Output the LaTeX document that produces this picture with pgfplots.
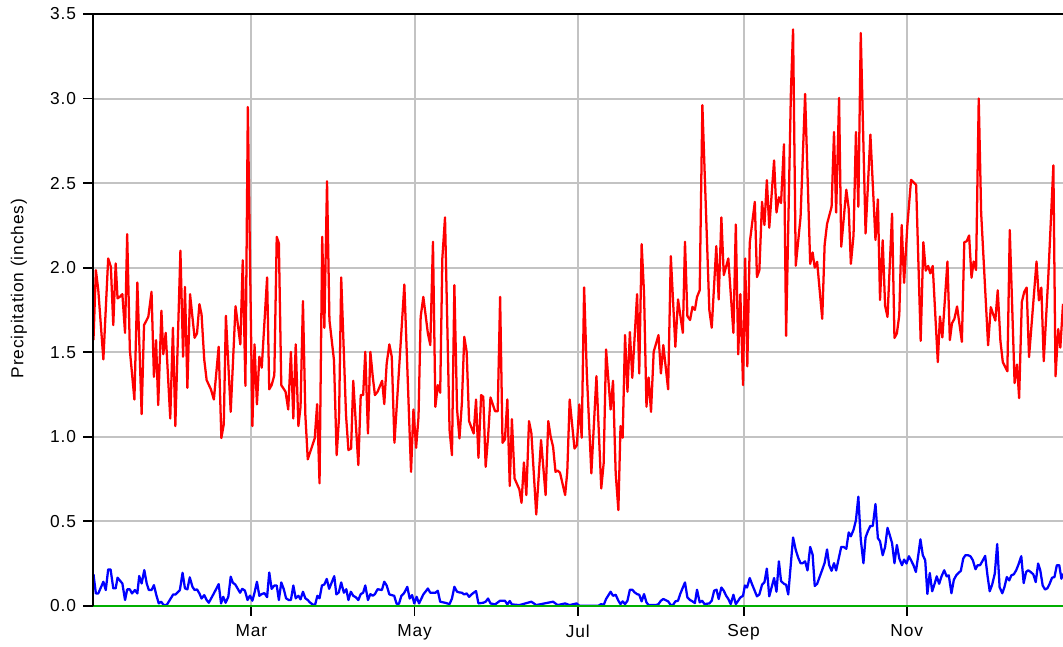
\documentclass[border=0pt]{standalone}
\usepackage{pgfplots}
\pgfplotsset{compat=1.18}
\usepackage{fontspec}
\setmainfont{Liberation Sans}[LetterSpace=5]
\definecolor{pgreen}{RGB}{0,175,0}
\definecolor{pgrid}{RGB}{195,195,195}

\begin{document}
\begin{tikzpicture}
\begin{axis}[
  name = ax,
  scale only axis,
  width  = 727.1pt,
  height = 443.8pt,
  xmin = 0, xmax = 362.4,
  ymin = 0, ymax = 3.5,
  clip = false,
  xtick = {59,120,181,243,304},
  xticklabels = {Mar,May,Jul,Sep,Nov},
  ytick = {0,0.5,1,1.5,2,2.5,3,3.5},
  yticklabels = {0.0,0.5,1.0,1.5,2.0,2.5,3.0,3.5},
  tick pos = left,
  tick align = outside,
  major tick length = 7.5pt,
  tick style = {black, line width=1.4pt},
  axis line style = {draw=none},
  grid = major,
  major grid style = {pgrid, line width=1.5pt},
  ticklabel style = {font=\fontsize{13}{15}\selectfont},
  yticklabel style = {xshift=-2.1pt},
  xticklabel style = {yshift=-3.2pt},
  ylabel = {Precipitation (inches)},
  every axis y label/.style = {at={(axis description cs:0,0.536)}, xshift=-52.6pt,
    rotate=90, anchor=base, font=\fontsize{13}{15}\selectfont},
  every axis plot/.append style = {line width=1.7pt, line join=round},
]
% daily maximum
\addplot[red] coordinates {
(0,1.571)(0.9,1.985)(1.8,1.867)(3.7,1.457)(5.5,2.054)(6.5,2.005)(7.4,1.66)(8.3,2.025)
(9.0,1.818)(9.9,1.828)(10.8,1.843)(11.8,1.614)(12.6,2.198)(13.6,1.512)(15.3,1.22)(16.4,1.912)
(18.0,1.134)(18.9,1.66)(20.5,1.709)(21.7,1.857)(22.6,1.354)(23.4,1.571)(24.2,1.187)(25.4,1.745)
(26.1,1.488)(27.0,1.614)(28.7,1.108)(29.7,1.644)(30.6,1.063)(32.5,2.1)(33.5,1.473)(34.2,1.886)
(35.1,1.289)(36.1,1.843)(37.8,1.585)(38.7,1.611)(39.6,1.784)(40.4,1.723)(41.4,1.457)(42.3,1.335)
(43.9,1.28)(45.0,1.22)(46.8,1.532)(47.8,0.992)(48.7,1.073)(49.5,1.715)(51.3,1.147)(53.1,1.772)
(54.9,1.546)(55.8,2.044)(56.8,1.301)(57.7,2.95)(59.4,1.063)(60.2,1.546)(61.1,1.191)(62.0,1.473)
(62.9,1.408)(64.9,1.942)(65.7,1.28)(66.6,1.305)(67.6,1.364)(68.5,2.182)(69.3,2.143)(70.2,1.305)
(71.8,1.266)(72.8,1.161)(73.8,1.502)(74.7,1.108)(75.6,1.546)(76.6,1.063)(77.4,1.177)(78.3,1.802)
(79.2,1.128)(80.1,0.866)(82.7,0.99)(83.6,1.193)(84.5,0.724)(85.5,2.182)(86.3,1.644)(87.3,2.511)
(88.2,1.69)(89.9,1.453)(90.9,0.891)(91.8,1.118)(92.6,1.942)(94.4,1.128)(95.3,0.921)(96.3,0.93)
(97.1,1.331)(99.0,0.832)(99.9,1.246)(100.8,1.246)(101.6,1.502)(102.6,1.019)(103.5,1.502)(104.4,1.354)
(105.2,1.246)(106.2,1.266)(107.9,1.331)(108.7,1.193)(109.6,1.433)(110.6,1.546)(111.5,1.473)(112.5,0.964)
(116.2,1.9)(118.7,0.792)(119.6,1.161)(120.6,0.934)(121.5,1.118)(122.3,1.709)(123.3,1.827)(125.0,1.611)
(125.9,1.542)(126.9,2.153)(127.8,1.177)(128.7,1.305)(129.6,1.26)(130.4,2.054)(131.4,2.297)(133.1,1.039)
(134.0,0.891)(134.9,1.897)(135.9,1.163)(136.8,0.99)(137.7,1.197)(138.6,1.591)(139.5,1.502)(140.4,1.092)
(142.1,1.019)(143.0,1.22)(143.9,0.875)(144.9,1.246)(145.7,1.236)(146.6,0.822)(147.5,1.0)(148.4,1.232)
(150.1,1.151)(151.1,1.151)(152.0,1.827)(152.9,0.964)(153.8,0.984)(154.7,1.22)(155.6,0.708)(156.4,1.104)
(157.4,0.753)(159.2,0.688)(160.0,0.609)(160.9,0.848)(161.8,0.655)(162.8,1.092)(163.7,1.019)(165.5,0.54)
(167.3,0.98)(169.0,0.655)(170.0,1.092)(170.9,1.0)(171.8,0.94)(172.7,0.792)(173.5,0.80)(174.4,0.786)
(176.3,0.655)(177.1,0.792)(178.0,1.22)(179.8,0.93)(180.7,0.95)(181.6,1.191)(182.5,0.994)(183.4,1.883)
(184.4,1.378)(186.1,0.783)(188.0,1.358)(189.8,0.694)(190.7,0.842)(191.6,1.516)(192.5,1.329)(193.3,1.161)
(194.2,1.331)(195.2,0.783)(196.2,0.566)(197.0,1.063)(197.8,0.994)(198.7,1.601)(199.6,1.266)(200.5,1.619)
(201.4,1.348)(203.2,1.843)(204.0,1.374)(204.9,2.139)(205.8,1.847)(206.7,1.177)(207.5,1.35)(208.4,1.147)
(209.4,1.502)(211.2,1.601)(212.1,1.374)(213.0,1.542)(214.8,1.28)(215.8,2.068)(217.5,1.532)(218.5,1.812)
(220.3,1.614)(221.1,2.153)(222.0,1.713)(223.0,1.69)(223.9,1.768)(224.8,1.75)(225.6,1.827)(226.6,1.866)
(227.6,2.961)(230.2,1.75)(231.1,1.644)(232.8,2.127)(233.7,1.812)(234.7,2.297)(235.6,1.956)(237.3,2.054)
(239.2,1.614)(240.1,2.255)(241.0,1.487)(241.8,1.843)(242.8,1.305)(243.6,2.054)(244.4,1.416)(245.3,2.146)
(247.2,2.389)(248.0,1.944)(248.9,1.984)(249.9,2.389)(250.8,2.252)(251.7,2.517)(252.6,2.236)(254.4,2.634)
(255.3,2.326)(256.2,2.416)(257.0,2.382)(258.1,2.73)(258.9,1.596)(260.7,3.045)(261.5,3.409)(262.5,2.011)
(264.3,2.299)(266.0,3.027)(267.9,2.022)(268.8,2.09)(269.6,2.0)(270.5,2.034)(272.4,1.697)(273.3,2.135)
(274.2,2.258)(275.9,2.36)(276.8,2.802)(277.6,2.326)(278.7,3.004)(279.5,2.124)(281.4,2.461)(282.3,2.348)
(283.1,2.022)(284.1,2.191)(285.0,2.802)(285.9,2.36)(286.8,3.387)(288.6,2.202)(290.4,2.787)(292.3,2.164)
(293.2,2.404)(294.0,1.809)(295.0,2.162)(295.9,1.775)(296.8,1.708)(298.5,2.319)(299.4,1.584)(300.3,1.611)
(301.2,1.719)(302.1,2.252)(303.0,1.91)(304.2,2.246)(305.6,2.519)(307.5,2.489)(309.2,1.567)(310.2,2.15)
(311.1,1.982)(312.0,2.01)(312.8,1.966)(313.7,2.01)(315.6,1.441)(316.4,1.711)(317.3,1.587)(319.2,2.036)
(320.1,1.571)(320.9,1.671)(321.8,1.697)(322.8,1.77)(324.6,1.561)(325.5,2.15)(326.4,2.156)(327.3,2.19)
(328.2,1.94)(329.0,2.036)(329.9,1.986)(330.9,3.0)(331.8,2.325)(334.4,1.541)(335.4,1.766)(337.1,1.687)
(338.0,1.866)(339.0,1.567)(339.9,1.441)(341.6,1.387)(342.5,2.222)(344.3,1.317)(345.2,1.427)(346.0,1.228)
(347.0,1.796)(347.9,1.856)(348.8,1.882)(349.7,1.471)(352.5,2.036)(353.4,1.806)(354.3,1.882)(355.2,1.447)
(356.9,1.946)(358.8,2.605)(359.6,1.357)(360.6,1.637)(361.4,1.527)(362.4,1.786)
};
% daily mean
\addplot[blue] coordinates {
(0,0.187)(0.9,0.073)(1.8,0.073)(3.7,0.142)(4.6,0.093)(5.5,0.215)(6.4,0.215)(7.4,0.103)
(8.3,0.103)(9.0,0.166)(10.8,0.132)(11.8,0.034)(12.6,0.097)(13.6,0.097)(14.4,0.073)(15.5,0.093)
(16.4,0.073)(17.1,0.176)(18.0,0.132)(19.0,0.211)(19.9,0.132)(20.7,0.093)(21.7,0.093)(22.6,0.122)
(23.5,0.063)(24.4,0.014)(25.3,0.024)(26.2,0.005)(27.4,0.005)(29.8,0.067)(30.7,0.067)(32.3,0.093)
(33.3,0.195)(34.2,0.103)(35.1,0.097)(36.0,0.168)(37.0,0.112)(37.8,0.093)(38.7,0.097)(39.6,0.073)
(40.4,0.043)(41.4,0.063)(42.3,0.034)(43.1,0.018)(45.0,0.073)(46.8,0.128)(47.7,0.014)(48.5,0.053)
(49.4,0.018)(50.4,0.053)(51.3,0.172)(52.1,0.136)(53.0,0.126)(54.8,0.077)(55.6,0.1)(56.6,0.09)
(57.6,0.034)(58.5,0.06)(59.4,0.03)(60.2,0.077)(61.1,0.142)(62.0,0.059)(62.9,0.069)(63.9,0.075)
(64.9,0.051)(65.7,0.197)(66.6,0.1)(67.6,0.12)(68.5,0.12)(69.3,0.034)(70.2,0.138)(71.1,0.1)
(72.0,0.044)(73.0,0.034)(73.8,0.034)(74.7,0.12)(75.6,0.044)(76.6,0.059)(77.4,0.038)(78.3,0.083)
(79.2,0.044)(80.1,0.034)(80.9,0.02)(81.9,0.008)(82.8,0.004)(83.7,0.059)(84.5,0.044)(85.4,0.12)
(86.3,0.126)(87.2,0.159)(88.1,0.1)(89.1,0.14)(90.0,0.175)(90.8,0.067)(91.7,0.079)(92.6,0.138)
(93.6,0.077)(94.5,0.098)(95.3,0.034)(96.2,0.083)(97.1,0.059)(98.0,0.051)(99.0,0.034)(99.9,0.069)
(100.8,0.077)(101.6,0.12)(102.6,0.034)(103.5,0.069)(104.4,0.059)(105.2,0.069)(106.2,0.098)(107.8,0.093)
(108.7,0.142)(109.6,0.12)(110.6,0.067)(112.4,0.059)(113.3,0.012)(114.2,0.012)(115.1,0.059)(116.1,0.075)
(117.3,0.112)(118.2,0.043)(119.1,0.063)(119.9,0.014)(120.8,0.053)(121.7,0.014)(123.3,0.067)(125.0,0.102)
(125.9,0.077)(127.8,0.077)(128.7,0.089)(129.6,0.024)(131.4,0.018)(133.1,0.01)(134.0,0.043)(134.9,0.112)
(135.9,0.083)(136.8,0.079)(137.7,0.077)(138.6,0.067)(139.5,0.073)(140.4,0.053)(141.3,0.067)(142.1,0.077)
(143.0,0.087)(143.9,0.014)(145.7,0.018)(146.6,0.024)(147.5,0.043)(148.4,0.014)(150.1,0.008)(152.0,0.03)
(153.8,0.03)(154.7,0.008)(155.6,0.028)(156.4,0.008)(159.2,0.004)(163.7,0.024)(165.5,0.004)(171.8,0.024)
(173.5,0.004)(176.3,0.014)(178.0,0.004)(180.6,0.014)(181.6,0.0)(188.7,0.0)(189.8,0.01)(190.7,0.004)
(191.6,0.04)(193.3,0.083)(194.2,0.059)(195.2,0.065)(196.2,0.03)(197.0,0.01)(197.8,0.026)(198.7,0.01)
(199.6,0.03)(200.5,0.095)(201.4,0.095)(202.3,0.079)(203.2,0.069)(204.0,0.065)(204.9,0.026)(205.8,0.069)
(206.7,0.02)(207.5,0.004)(210.3,0.004)(211.2,0.01)(212.1,0.03)(213.0,0.04)(214.8,0.026)(215.8,0.004)
(216.6,0.004)(217.5,0.026)(218.5,0.03)(219.3,0.069)(220.3,0.108)(221.1,0.138)(222.0,0.049)(223.0,0.034)
(223.9,0.026)(224.8,0.016)(225.6,0.095)(226.6,0.02)(227.5,0.03)(228.4,0.01)(230.2,0.014)(231.1,0.03)
(232.0,0.089)(232.9,0.095)(233.7,0.04)(234.7,0.108)(235.6,0.089)(236.5,0.059)(237.3,0.04)(238.2,0.01)
(239.2,0.065)(240.1,0.01)(241.0,0.03)(241.8,0.049)(242.8,0.059)(243.5,0.12)(244.3,0.108)(245.3,0.164)
(246.1,0.13)(248.0,0.056)(248.9,0.067)(249.9,0.124)(250.8,0.139)(251.7,0.22)(252.6,0.056)(254.4,0.164)
(255.3,0.083)(256.2,0.263)(257.0,0.146)(258.1,0.13)(258.9,0.124)(259.7,0.067)(261.5,0.404)(262.5,0.33)
(263.4,0.285)(264.3,0.252)(265.1,0.252)(266.0,0.263)(266.9,0.209)(267.9,0.348)(268.8,0.303)(269.6,0.117)
(270.5,0.13)(272.4,0.213)(273.3,0.254)(274.2,0.333)(275.0,0.24)(275.9,0.207)(276.8,0.252)(277.6,0.209)
(279.5,0.348)(280.4,0.348)(281.4,0.337)(282.3,0.434)(283.1,0.411)(284.1,0.449)(285.0,0.506)(285.9,0.645)
(286.8,0.393)(287.8,0.252)(288.6,0.404)(289.5,0.443)(290.4,0.472)(291.3,0.472)(292.3,0.602)(293.2,0.4)
(294.0,0.382)(295.0,0.299)(295.9,0.348)(296.8,0.461)(297.6,0.42)(298.5,0.371)(299.4,0.252)(300.3,0.36)
(301.2,0.28)(302.2,0.24)(303.0,0.273)(303.9,0.25)(304.8,0.293)(305.6,0.269)(306.5,0.24)(307.4,0.2)
(308.3,0.299)(309.1,0.393)(310.0,0.299)(310.9,0.269)(311.7,0.07)(312.6,0.194)(313.5,0.086)(314.4,0.13)
(315.2,0.174)(316.1,0.13)(317.0,0.174)(318.0,0.21)(318.9,0.174)(319.7,0.18)(320.7,0.074)(321.6,0.154)
(322.5,0.18)(323.3,0.194)(324.2,0.206)(325.1,0.279)(325.9,0.299)(326.9,0.299)(327.8,0.293)(328.7,0.269)
(329.7,0.216)(330.5,0.24)(331.4,0.24)(332.3,0.265)(333.3,0.295)(334.2,0.176)(335.0,0.086)(335.9,0.124)
(336.9,0.19)(337.8,0.365)(338.7,0.11)(339.7,0.074)(340.5,0.11)(341.4,0.17)(342.3,0.15)(343.1,0.18)
(344.0,0.186)(344.9,0.21)(345.8,0.246)(346.8,0.293)(347.7,0.134)(348.6,0.2)(349.4,0.21)(350.3,0.2)
(351.3,0.186)(352.2,0.14)(353.1,0.25)(353.9,0.21)(354.8,0.12)(355.7,0.096)(356.6,0.104)(357.4,0.13)
(358.3,0.166)(359.2,0.17)(360.1,0.24)(361.0,0.24)(361.8,0.16)(362.4,0.19)
};
% daily minimum
\addplot[pgreen, line width=1.9pt] coordinates {(0,0) (362.4,0)};
\end{axis}
\draw[black, line width=1.5pt] (ax.south west) -- (ax.north west) -- (ax.north east);
\pgfresetboundingbox
\path[use as bounding box] ([shift={(-70.1pt,-30.2pt)}]ax.south west)
  rectangle ([shift={(0pt,10.5pt)}]ax.north east);
\end{tikzpicture}
\end{document}
